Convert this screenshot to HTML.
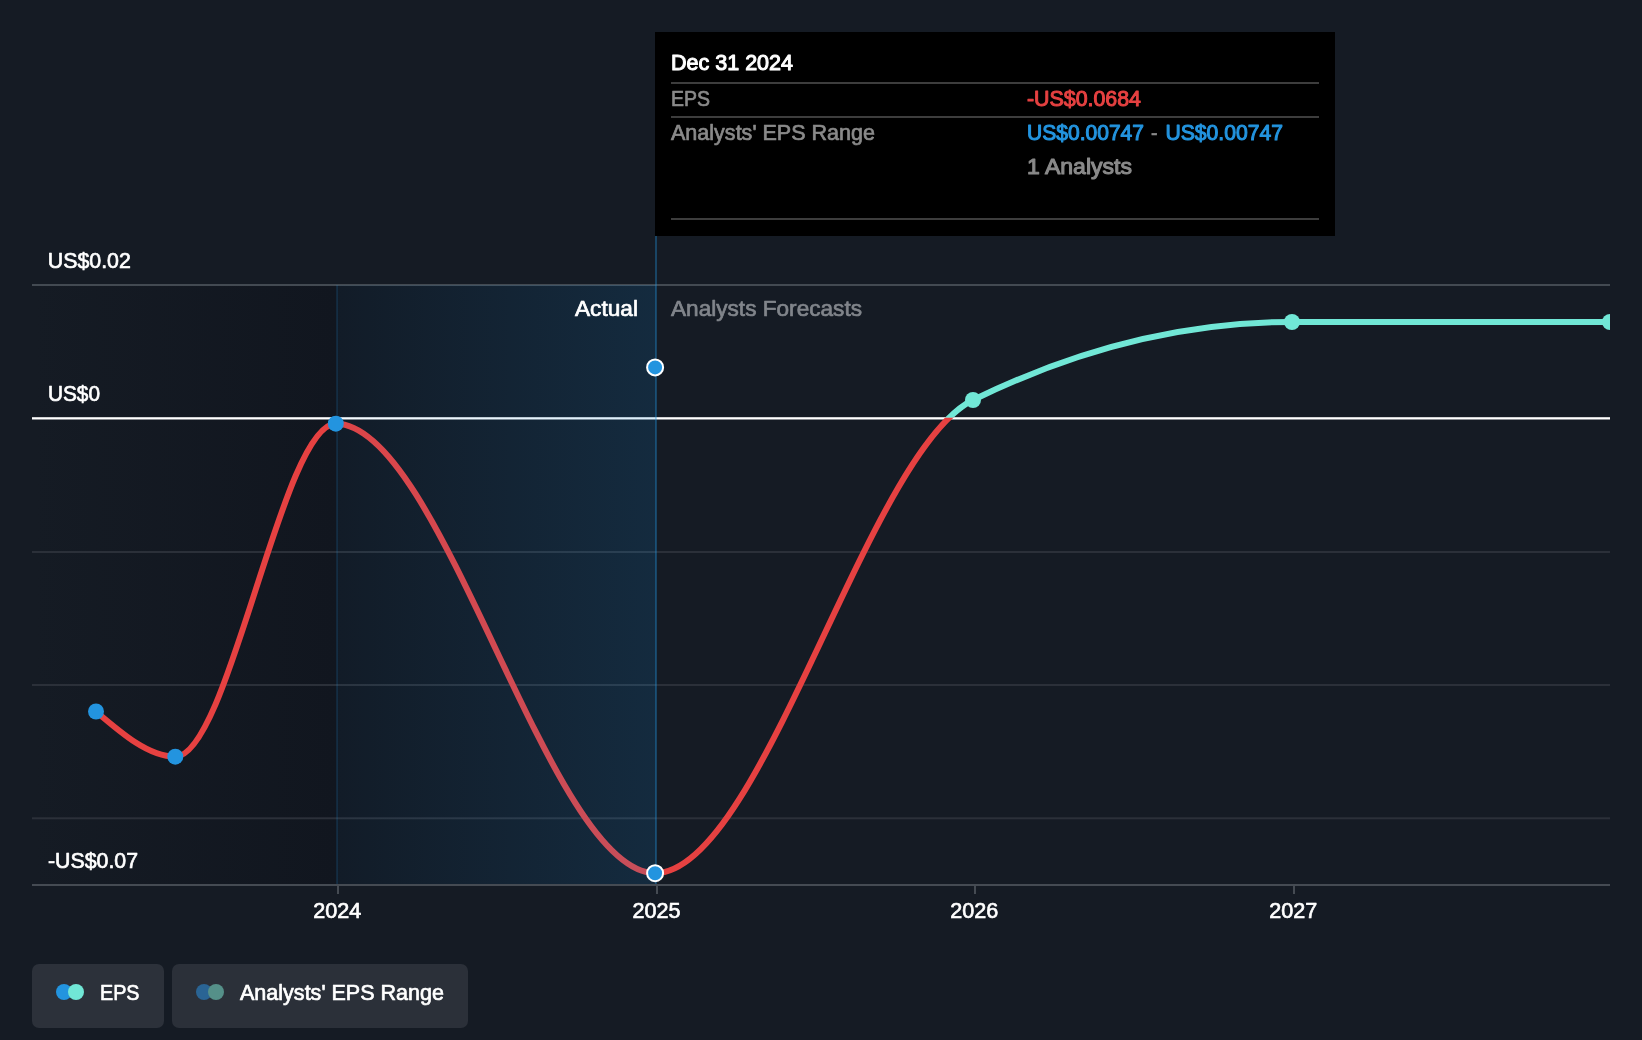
<!DOCTYPE html>
<html lang="en"><head><meta charset="utf-8"><title>EPS chart</title>
<style>
html,body{margin:0;padding:0;background:#151b24;}
body{width:1642px;height:1040px;overflow:hidden;}
svg{display:block;}
text{-webkit-font-smoothing:antialiased;}
.t{will-change:transform;}
</style></head><body>
<svg width="1642" height="1040" viewBox="0 0 1642 1040" font-family="'Liberation Sans', sans-serif" class="t">
<defs>
<linearGradient id="gPast" x1="0" x2="1" y1="0" y2="0"><stop offset="0" stop-color="#11161f" stop-opacity="0"/><stop offset="1" stop-color="#11161f" stop-opacity="1"/></linearGradient>
<linearGradient id="gAct" x1="0" x2="1" y1="0" y2="0"><stop offset="0" stop-color="#2394df" stop-opacity="0.045"/><stop offset="1" stop-color="#2394df" stop-opacity="0.165"/></linearGradient>
<clipPath id="cPlot"><rect x="32" y="236" width="1578" height="660"/></clipPath>
<clipPath id="cNeg"><rect x="0" y="417.5" width="1610" height="500"/></clipPath>
<clipPath id="cPos"><rect x="0" y="200" width="1610" height="217.5"/></clipPath>
</defs>
<rect width="1642" height="1040" fill="#151b24"/>
<rect x="32" y="285" width="305" height="600" fill="url(#gPast)"/>
<rect x="337" y="285" width="319" height="600" fill="#11161f"/>
<rect x="32" y="284" width="1578" height="2" fill="#434a52"/>
<rect x="32" y="551" width="1578" height="2" fill="#2b3039"/>
<rect x="32" y="684" width="1578" height="2" fill="#2b3039"/>
<rect x="32" y="817.3" width="1578" height="2" fill="#2b3039"/>
<rect x="32" y="417.2" width="1578" height="2.3" fill="#ffffff"/>
<g fill="none" stroke-width="6" stroke-linecap="round" stroke-linejoin="round"><path d="M96.00,711.50C122.43,734.10,148.87,756.70,175.30,756.70C228.80,756.70,282.30,423.70,335.80,423.70C442.23,423.70,548.67,873.20,655.10,873.20C761.07,873.20,867.03,451.82,973.00,400.00C1079.33,348.00,1185.67,322.00,1292.00,322.00C1398.00,322.00,1504.00,322.00,1610.00,322.00" stroke="#e64141" clip-path="url(#cNeg)"/><path d="M96.00,711.50C122.43,734.10,148.87,756.70,175.30,756.70C228.80,756.70,282.30,423.70,335.80,423.70C442.23,423.70,548.67,873.20,655.10,873.20C761.07,873.20,867.03,451.82,973.00,400.00C1079.33,348.00,1185.67,322.00,1292.00,322.00C1398.00,322.00,1504.00,322.00,1610.00,322.00" stroke="#71e7d6" clip-path="url(#cPos)"/></g>
<rect x="337" y="285" width="319" height="599" fill="url(#gAct)"/>
<rect x="336" y="285" width="2" height="599" fill="#2394df" fill-opacity="0.15"/>
<rect x="655" y="236" width="2" height="648" fill="#2394df" fill-opacity="0.35"/>
<rect x="32" y="884" width="1578" height="2" fill="#454b53"/>
<rect x="337" y="886" width="2" height="8" fill="#454b53"/>
<rect x="656" y="886" width="2" height="8" fill="#454b53"/>
<rect x="974" y="886" width="2" height="8" fill="#454b53"/>
<rect x="1293" y="886" width="2" height="8" fill="#454b53"/>
<circle cx="96" cy="711.5" r="8" fill="#2394df"/>
<circle cx="175.3" cy="756.7" r="8" fill="#2394df"/>
<circle cx="335.8" cy="423.7" r="8" fill="#2394df"/>
<g clip-path="url(#cPlot)">
<circle cx="973" cy="400" r="8" fill="#71e7d6"/>
<circle cx="1292" cy="322" r="8" fill="#71e7d6"/>
<circle cx="1610" cy="322" r="8" fill="#71e7d6"/>
</g>
<circle cx="655.1" cy="873.2" r="8" fill="#2394df" stroke="#fff" stroke-width="2"/>
<circle cx="655.1" cy="367.4" r="8" fill="#2394df" stroke="#fff" stroke-width="2"/>
<text x="47.8" y="268.3" font-size="22.5" fill="#fff" stroke="#fff" stroke-width="0.7" stroke-linejoin="round" text-anchor="start" textLength="83" lengthAdjust="spacingAndGlyphs">US$0.02</text>
<text x="48" y="401" font-size="22.5" fill="#fff" stroke="#fff" stroke-width="0.7" stroke-linejoin="round" text-anchor="start" textLength="52" lengthAdjust="spacingAndGlyphs">US$0</text>
<text x="48" y="868" font-size="22.5" fill="#fff" stroke="#fff" stroke-width="0.7" stroke-linejoin="round" text-anchor="start" textLength="90" lengthAdjust="spacingAndGlyphs">-US$0.07</text>
<text x="337.2" y="918" font-size="22.5" fill="#fff" stroke="#fff" stroke-width="0.7" stroke-linejoin="round" text-anchor="middle" textLength="48" lengthAdjust="spacingAndGlyphs">2024</text>
<text x="656.4" y="918" font-size="22.5" fill="#fff" stroke="#fff" stroke-width="0.7" stroke-linejoin="round" text-anchor="middle" textLength="48" lengthAdjust="spacingAndGlyphs">2025</text>
<text x="974.2" y="918" font-size="22.5" fill="#fff" stroke="#fff" stroke-width="0.7" stroke-linejoin="round" text-anchor="middle" textLength="48" lengthAdjust="spacingAndGlyphs">2026</text>
<text x="1293.2" y="918" font-size="22.5" fill="#fff" stroke="#fff" stroke-width="0.7" stroke-linejoin="round" text-anchor="middle" textLength="48" lengthAdjust="spacingAndGlyphs">2027</text>
<text x="638" y="315.6" font-size="22.5" fill="#fff" stroke="#fff" stroke-width="0.7" stroke-linejoin="round" text-anchor="end" textLength="63" lengthAdjust="spacingAndGlyphs">Actual</text>
<text x="671" y="315.6" font-size="22.5" fill="#81858b" stroke="#81858b" stroke-width="0.7" stroke-linejoin="round" text-anchor="start" textLength="191" lengthAdjust="spacingAndGlyphs">Analysts Forecasts</text>
<rect x="655" y="32" width="680" height="204" fill="#000"/>
<rect x="671" y="82" width="648" height="2" fill="#3d3d3d"/>
<rect x="671" y="116" width="648" height="2" fill="#3d3d3d"/>
<rect x="671" y="218" width="648" height="2" fill="#3d3d3d"/>
<text x="671" y="69.7" font-size="22" fill="#fff" stroke="#fff" stroke-width="1.05" stroke-linejoin="round" text-anchor="start" textLength="122" lengthAdjust="spacingAndGlyphs">Dec 31 2024</text>
<text x="671" y="105.8" font-size="22" fill="#8a8a8a" stroke="#8a8a8a" stroke-width="0.7" stroke-linejoin="round" text-anchor="start" textLength="39" lengthAdjust="spacingAndGlyphs">EPS</text>
<text x="1027" y="106" font-size="22" fill="#e64141" stroke="#e64141" stroke-width="1.05" stroke-linejoin="round" text-anchor="start" textLength="114" lengthAdjust="spacingAndGlyphs">-US$0.0684</text>
<text x="671" y="140" font-size="22" fill="#8a8a8a" stroke="#8a8a8a" stroke-width="0.7" stroke-linejoin="round" text-anchor="start" textLength="204" lengthAdjust="spacingAndGlyphs">Analysts' EPS Range</text>
<text x="1027" y="140" font-size="22" fill="#2394df" stroke="#2394df" stroke-width="1.05" stroke-linejoin="round" text-anchor="start" textLength="117" lengthAdjust="spacingAndGlyphs">US$0.00747</text>
<text x="1151" y="140" font-size="22" fill="#8a8a8a" stroke="#8a8a8a" stroke-width="0.7" stroke-linejoin="round" text-anchor="start" textLength="6.5" lengthAdjust="spacingAndGlyphs">-</text>
<text x="1165.5" y="140" font-size="22" fill="#2394df" stroke="#2394df" stroke-width="1.05" stroke-linejoin="round" text-anchor="start" textLength="117.5" lengthAdjust="spacingAndGlyphs">US$0.00747</text>
<text x="1027" y="174" font-size="22" fill="#8a8a8a" stroke="#8a8a8a" stroke-width="1.05" stroke-linejoin="round" text-anchor="start" textLength="105" lengthAdjust="spacingAndGlyphs">1 Analysts</text>
<rect x="32" y="964" width="132" height="64" rx="7" fill="#2c313a"/>
<rect x="172" y="964" width="296" height="64" rx="7" fill="#2b3039"/>
<circle cx="64" cy="992" r="8" fill="#2394df"/><circle cx="76" cy="992" r="8" fill="#71e7d6"/>
<circle cx="204" cy="992" r="8" fill="#2a6494"/><circle cx="216" cy="992" r="8" fill="#559089"/>
<text x="100" y="1000" font-size="22.5" fill="#fff" stroke="#fff" stroke-width="0.7" stroke-linejoin="round" text-anchor="start" textLength="39.5" lengthAdjust="spacingAndGlyphs">EPS</text>
<text x="240" y="1000" font-size="22.5" fill="#fff" stroke="#fff" stroke-width="0.7" stroke-linejoin="round" text-anchor="start" textLength="204" lengthAdjust="spacingAndGlyphs">Analysts' EPS Range</text>
</svg>
</body></html>
